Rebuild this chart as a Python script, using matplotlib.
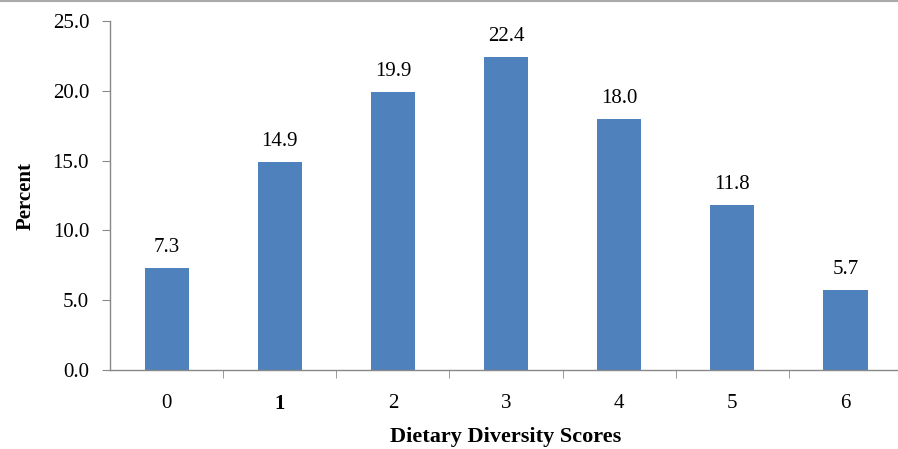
import matplotlib
matplotlib.use("Agg")
import matplotlib.pyplot as plt
from matplotlib.lines import Line2D

# percentage of respondents at each dietary diversity score
scores = ["0", "1", "2", "3", "4", "5", "6"]
percent = [7.3, 14.9, 19.9, 22.4, 18.0, 11.8, 5.7]
yticks = [0, 5, 10, 15, 20, 25]

plt.rcParams['font.family'] = ['Liberation Serif', 'DejaVu Serif']

fig = plt.figure(figsize=(8.98, 4.49), dpi=100)
ax = fig.add_axes([0.1225, 0.176, 0.882, 0.777])

x = list(range(len(scores)))
ax.bar(x, percent, width=0.39, color="#4F81BD", zorder=2)
for xi, v in zip(x, percent):
    ax.text(xi, v + 0.8, f"{v:.1f}", ha="center", va="bottom", fontsize=15)

ax.set_xlim(-0.5, len(scores) - 0.5)
ax.set_ylim(0, 25)
ax.set_yticks(yticks)
ax.set_yticklabels([f"{t:.1f}" for t in yticks])
ax.set_xticks(x)
ax.set_xticklabels(scores)
ax.get_xticklabels()[1].set_fontweight("bold")
ax.set_xticks([i + 0.5 for i in x[:-1]], minor=True)
ax.tick_params(axis="x", which="major", length=0, pad=17, labelsize=15)
ax.tick_params(axis="x", which="minor", length=6, color="#888888", direction="out")
ax.tick_params(axis="y", length=6, color="#888888", pad=9, labelsize=15)

for s in ["top", "right"]:
    ax.spines[s].set_visible(False)
for s in ["left", "bottom"]:
    ax.spines[s].set_color("#888888")
    ax.spines[s].set_linewidth(1.0)

ax.set_ylabel("Percent", fontweight="bold", fontsize=15, labelpad=12)
ax.set_xlabel("Dietary Diversity Scores", fontweight="bold", fontsize=16, labelpad=10)

# thin frame line along the top edge
fig.add_artist(Line2D([0, 1], [0.998, 0.998], color="#aaaaaa", linewidth=1.5, transform=fig.transFigure))

fig.savefig("out.png", dpi=100)
